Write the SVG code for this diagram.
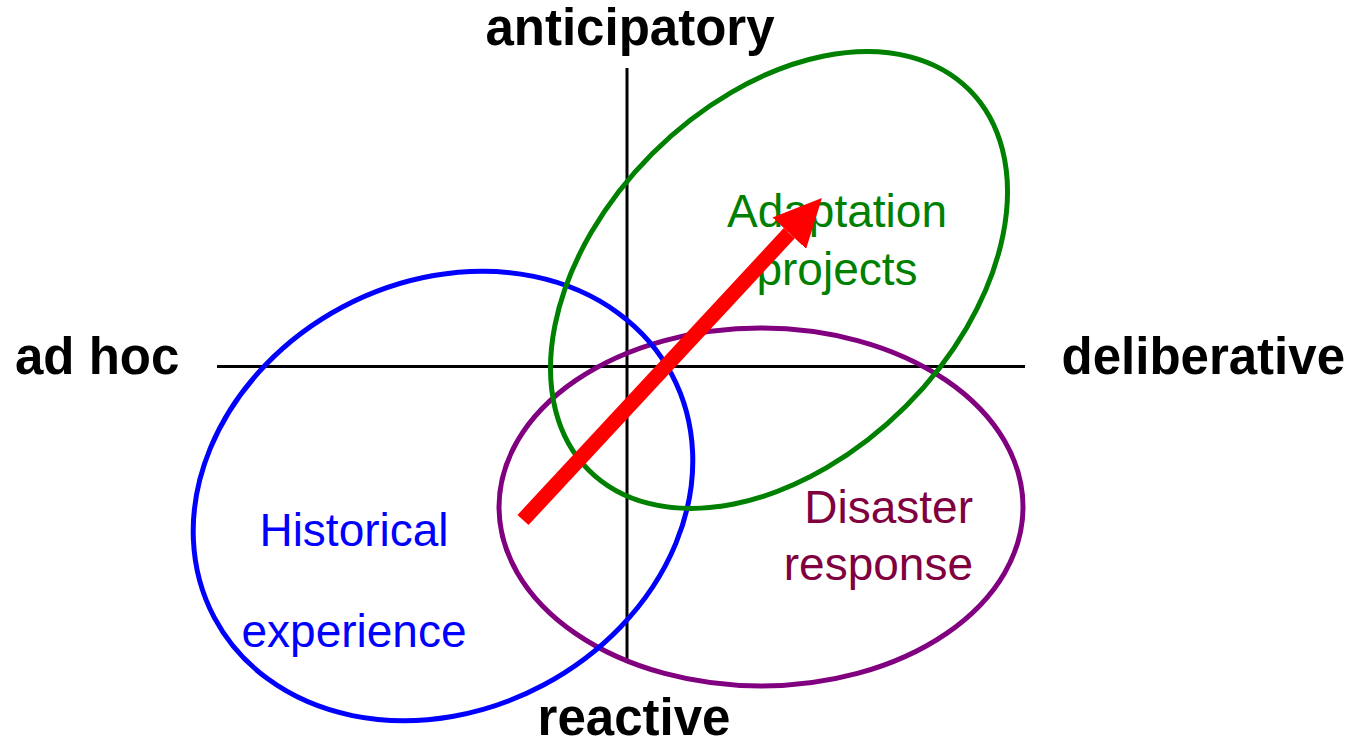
<svg xmlns="http://www.w3.org/2000/svg" width="1357" height="740" viewBox="0 0 1357 740">
<style>
.axis{stroke:#000;stroke-width:3;fill:none}
.ell{fill:none;stroke-width:5}
.lbl{font-family:"Liberation Sans",Arial,sans-serif;font-weight:bold;font-size:51px;fill:#000}
.txt{font-family:"Liberation Sans",Arial,sans-serif;font-size:46px}
</style>
<defs>
<marker id="head" viewBox="0 0 48 46" refX="0" refY="23" markerWidth="48" markerHeight="46" markerUnits="userSpaceOnUse" orient="auto">
<path d="M0,0 L48,23 L0,46 Z" fill="#ff0000"/>
</marker>
</defs>
<rect width="1357" height="740" fill="#fff"/>
<g id="axes">
<line class="axis" x1="627" y1="68" x2="627" y2="663"/>
<line class="axis" x1="217" y1="366.5" x2="1025" y2="366.5"/>
</g>
<g id="axis-labels">
<text class="lbl" x="630" y="45" text-anchor="middle">anticipatory</text>
<text class="lbl" x="15" y="374">ad hoc</text>
<text class="lbl" x="1345" y="374" text-anchor="end">deliberative</text>
<text class="lbl" x="634" y="735" text-anchor="middle">reactive</text>
</g>
<g id="disaster-response">
<ellipse class="ell" cx="761" cy="507" rx="262" ry="179" stroke="#800080"/>
<text class="txt" fill="#800040" text-anchor="end"><tspan x="973" y="523">Disaster</tspan><tspan x="973" y="580">response</tspan></text>
</g>
<g id="historical-experience">
<ellipse class="ell" cx="443" cy="496" rx="259" ry="214" transform="rotate(-28 443 496)" stroke="#0000ff"/>
<text class="txt" fill="#0000ff" text-anchor="middle"><tspan x="354" y="546">Historical</tspan><tspan x="354" y="647">experience</tspan></text>
</g>
<g id="adaptation-projects">
<ellipse class="ell" cx="779" cy="280" rx="269" ry="179" transform="rotate(-45 779 280)" stroke="#008000"/>
<text class="txt" fill="#008000" text-anchor="middle"><tspan x="837" y="227">Adaptation</tspan><tspan x="837" y="285">projects</tspan></text>
</g>
<g id="connectors">
<line x1="523" y1="520" x2="789.3" y2="233.2" stroke="#ff0000" stroke-width="15" marker-end="url(#head)"/>
</g>
</svg>
